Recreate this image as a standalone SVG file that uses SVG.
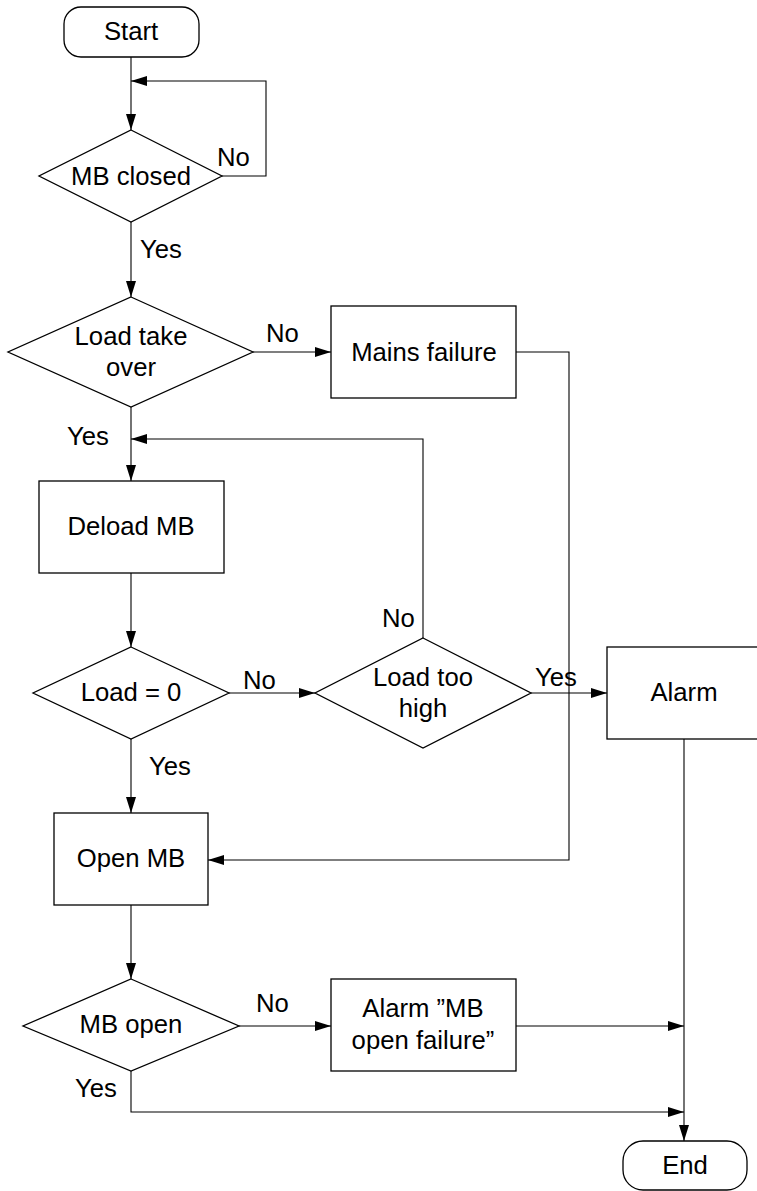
<svg xmlns="http://www.w3.org/2000/svg" width="757" height="1191" viewBox="0 0 757 1191">
<style>
.s{fill:#fff;stroke:#000;stroke-width:1.3}
.c{fill:none;stroke:#000;stroke-width:1.1}
text{font-family:"Liberation Sans",Arial,sans-serif;font-size:25.7px;fill:#000}
.m{text-anchor:middle}
</style>
<defs>
<marker id="a" markerUnits="userSpaceOnUse" markerWidth="17" markerHeight="11" refX="16" refY="5" orient="auto">
<path d="M0,0 L16,5 L0,10 z" fill="#000"/>
</marker>
</defs>
<rect width="757" height="1191" fill="#fff"/>
<g id="connectors">
<path class="c" d="M131,57 V130" marker-end="url(#a)"/>
<path class="c" d="M222,176 H266 V81 H131" marker-end="url(#a)"/>
<path class="c" d="M131,222 V297" marker-end="url(#a)"/>
<path class="c" d="M253,352 H331" marker-end="url(#a)"/>
<path class="c" d="M516,352 H569 V860 H208" marker-end="url(#a)"/>
<path class="c" d="M131,407 V481" marker-end="url(#a)"/>
<path class="c" d="M423,638 V439 H131" marker-end="url(#a)"/>
<path class="c" d="M131,573 V647" marker-end="url(#a)"/>
<path class="c" d="M229,693 H315" marker-end="url(#a)"/>
<path class="c" d="M531,693 H607" marker-end="url(#a)"/>
<path class="c" d="M131,739 V813" marker-end="url(#a)"/>
<path class="c" d="M131,905 V979" marker-end="url(#a)"/>
<path class="c" d="M239,1026 H331" marker-end="url(#a)"/>
<path class="c" d="M516,1026 H684" marker-end="url(#a)"/>
<path class="c" d="M131,1071 V1112 H684" marker-end="url(#a)"/>
<path class="c" d="M684,739 V1141" marker-end="url(#a)"/>
<text x="217" y="166">No</text>
<text x="140" y="258">Yes</text>
<text x="266" y="342">No</text>
<text x="67" y="445">Yes</text>
<text x="382" y="627">No</text>
<text x="243" y="689">No</text>
<text x="535" y="686">Yes</text>
<text x="149" y="775">Yes</text>
<text x="256" y="1012">No</text>
<text x="75" y="1097">Yes</text>
</g>
<g id="start">
<rect class="s" x="64" y="7" width="135" height="50" rx="17"/>
<text class="m" x="131" y="40">Start</text>
</g>
<g id="mb-closed">
<polygon class="s" points="131,130 222,176 131,222 39,176"/>
<text class="m" x="131" y="185">MB closed</text>
</g>
<g id="load-take-over">
<polygon class="s" points="131,297 253,352 131,407 8,352"/>
<text class="m" x="131" y="345">Load take</text>
<text class="m" x="131" y="376">over</text>
</g>
<g id="mains-failure">
<rect class="s" x="331" y="306" width="185" height="92"/>
<text class="m" x="424" y="361">Mains failure</text>
</g>
<g id="deload-mb">
<rect class="s" x="39" y="481" width="185" height="92"/>
<text class="m" x="131" y="535">Deload MB</text>
</g>
<g id="load-zero">
<polygon class="s" points="131,647 229,693 131,739 33,693"/>
<text class="m" x="131" y="701">Load = 0</text>
</g>
<g id="load-too-high">
<polygon class="s" points="423,638 531,693 423,748 315,693"/>
<text class="m" x="423" y="686">Load too</text>
<text class="m" x="423" y="717">high</text>
</g>
<g id="alarm">
<rect class="s" x="607" y="647" width="154" height="92"/>
<text class="m" x="684" y="701">Alarm</text>
</g>
<g id="open-mb">
<rect class="s" x="54" y="813" width="154" height="92"/>
<text class="m" x="131" y="867">Open MB</text>
</g>
<g id="mb-open">
<polygon class="s" points="131,979 239,1026 131,1071 23,1026"/>
<text class="m" x="131" y="1033">MB open</text>
</g>
<g id="alarm-mb-open-failure">
<rect class="s" x="331" y="979" width="185" height="92"/>
<text class="m" x="423" y="1017">Alarm ”MB</text>
<text class="m" x="423" y="1049">open failure”</text>
</g>
<g id="end">
<rect class="s" x="623" y="1141" width="124" height="49" rx="20"/>
<text class="m" x="685" y="1174">End</text>
</g>
</svg>
